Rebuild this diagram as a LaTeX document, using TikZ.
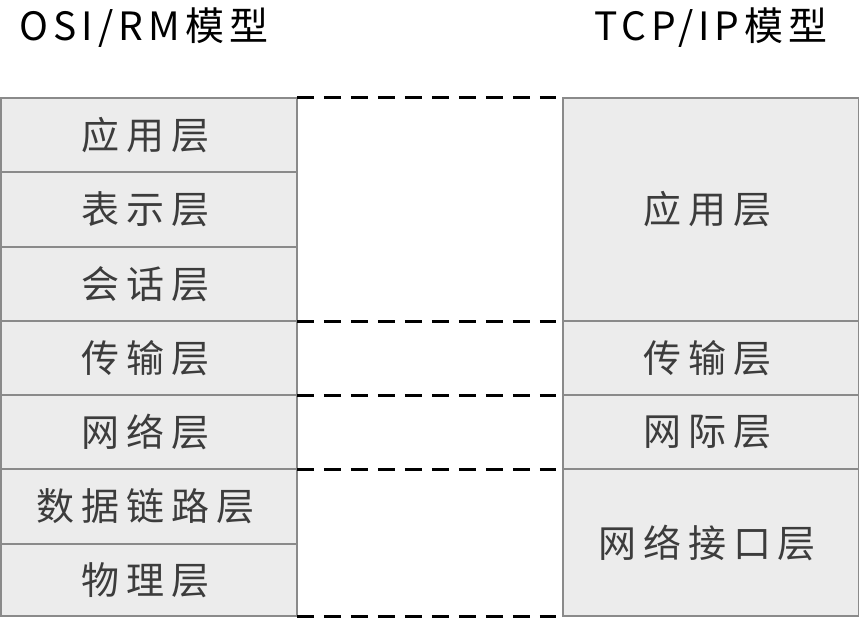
\documentclass[tikz,border=0pt]{standalone}
\usepackage{fontspec}
\newfontfamily\cjk{Noto Sans CJK SC}
\usetikzlibrary{calc}
\definecolor{boxfill}{HTML}{ECECEC}
\definecolor{boxline}{HTML}{8A8A8A}
\definecolor{txt}{HTML}{3C3C3C}
\tikzset{
  layer/.style={draw=boxline, fill=boxfill, line width=1.5pt, inner sep=0pt, outer sep=0pt,
    minimum width=296pt, text=txt, execute at end node={\hspace{7pt}},
    font=\cjk\fontsize{38pt}{40pt}\selectfont\addfontfeature{LetterSpace=18}},
  title/.style={inner sep=0pt, text=black, font=\cjk\fontsize{39pt}{40pt}\selectfont\addfontfeature{LetterSpace=13}},
  dashline/.style={draw=black, line width=3pt, dash pattern=on 17pt off 10pt, shorten >=7pt}
}
\begin{document}
\begin{tikzpicture}[x=1pt,y=-1pt]
\useasboundingbox (0,0) rectangle (860,618);
% titles
\node[title] (t1) at (144,28) {OSI/RM模型};
\node[title] (t2) at (711,28) {TCP/IP模型};
% OSI layers
\node[layer, minimum height=74pt] (l1) at (148.9,135) {应用层};
\node[layer, minimum height=75pt] (l2) at (148.9,209.5) {表示层};
\node[layer, minimum height=74pt] (l3) at (148.9,284) {会话层};
\node[layer, minimum height=74pt] (l4) at (148.9,358) {传输层};
\node[layer, minimum height=74pt] (l5) at (148.9,432) {网络层};
\node[layer, minimum height=75pt] (l6) at (148.9,506.5) {数据链路层};
\node[layer, minimum height=72pt] (l7) at (148.9,580) {物理层};
% TCP/IP layers
\node[layer, minimum width=295.5pt, minimum height=223pt] (r1) at (710.75,209.5) {应用层};
\node[layer, minimum width=295.5pt, minimum height=74pt] (r2) at (710.75,358) {传输层};
\node[layer, minimum width=295.5pt, minimum height=74pt] (r3) at (710.75,432) {网际层};
\node[layer, minimum width=295.5pt, minimum height=147pt] (r4) at (710.75,542.5) {网络接口层};
% dashed correspondences
\draw[dashline] (l1.north east) -- (r1.north west);
\draw[dashline] (l4.north east) -- (r2.north west);
\draw[dashline] (l5.north east) -- (r3.north west);
\draw[dashline] (l6.north east) -- (r4.north west);
\draw[dashline] (l7.south east) -- (r4.south west);
\end{tikzpicture}
\end{document}
